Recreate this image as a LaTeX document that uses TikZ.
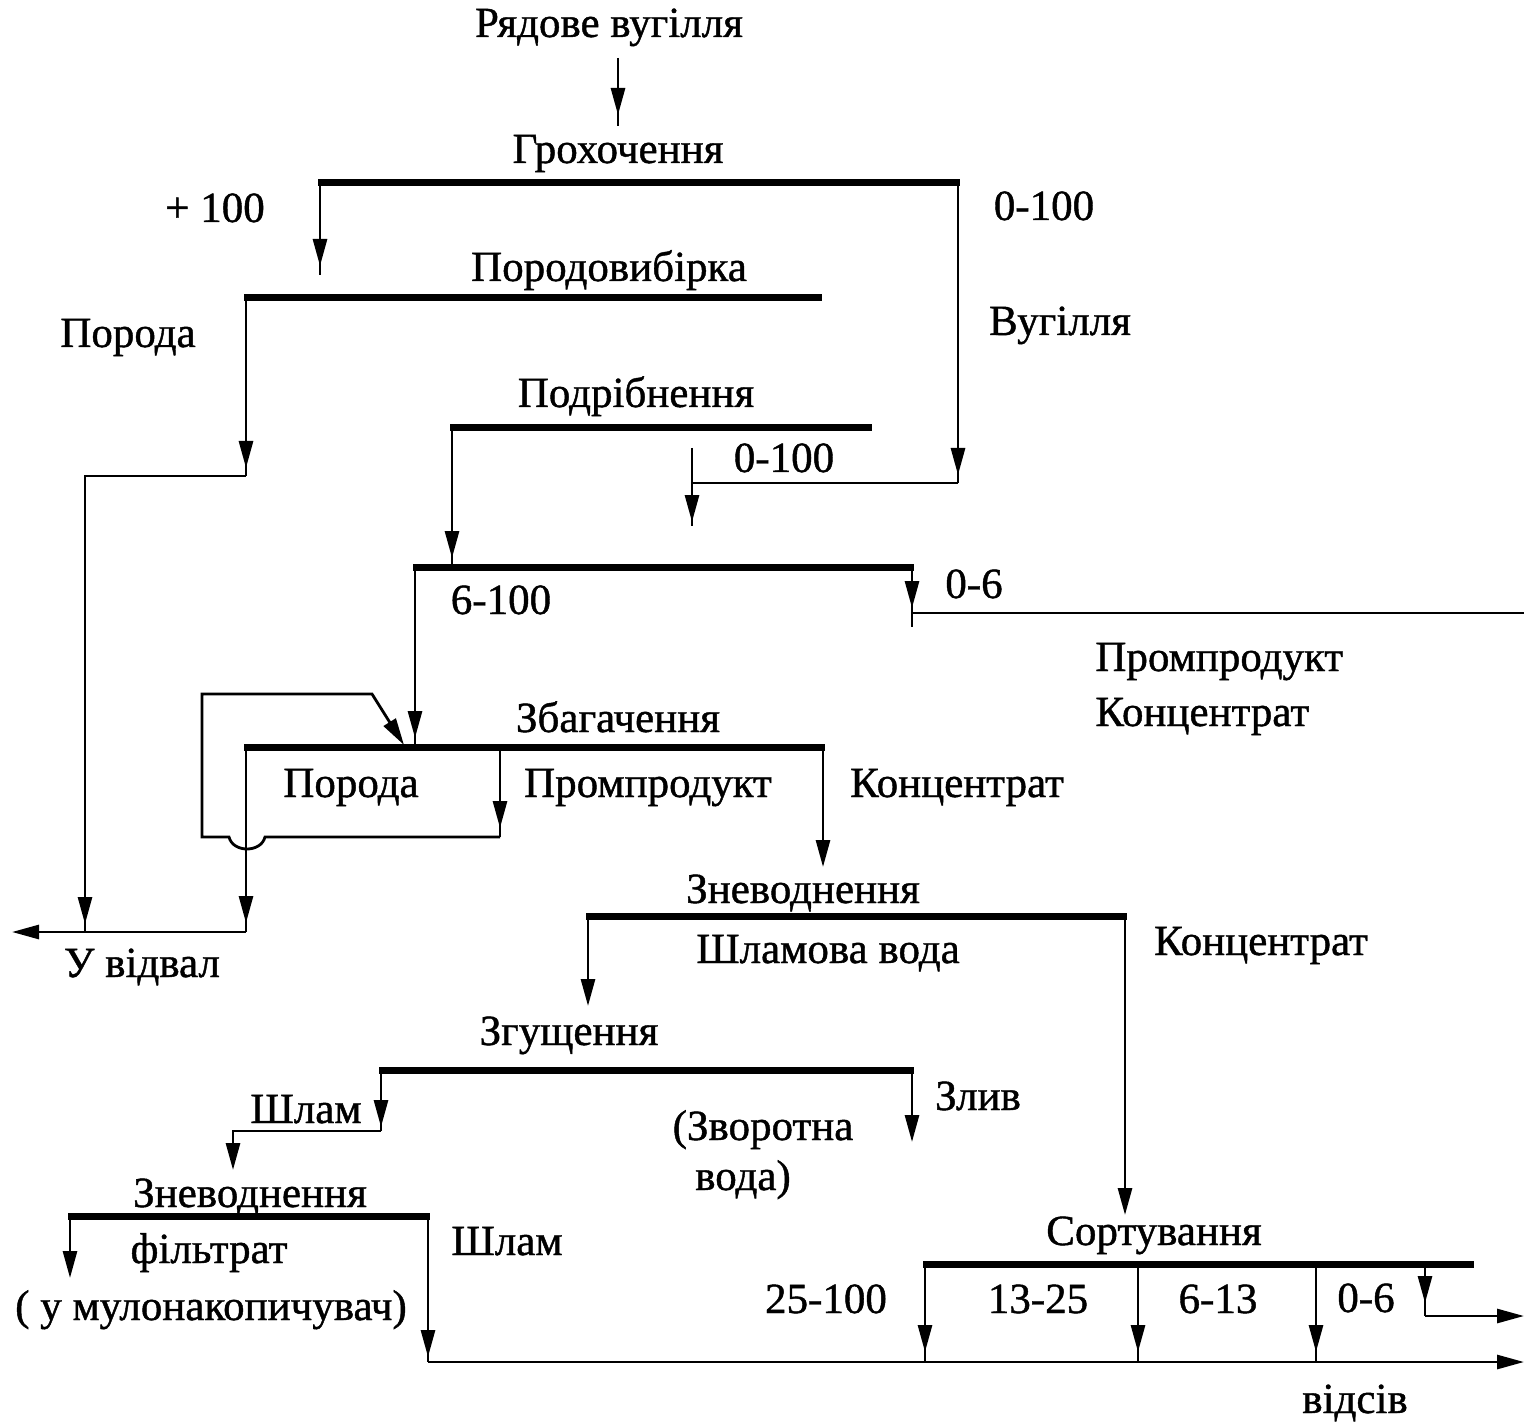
\documentclass[tikz,border=0pt]{standalone}
\usepackage{fontspec}
\setmainfont{Liberation Serif}[FakeBold=1]
\usetikzlibrary{arrows.meta,decorations.markings}
\tikzset{
  >={Triangle[length=13.5pt,width=7pt]},
  flow/.style={line width=1.4pt},
  bar/.style={line width=3.5pt, shorten <=-1pt, shorten >=-1pt},
  tipat/.style={postaction={decorate, decoration={markings,
      mark=at position #1 with {\arrow{Triangle[length=13.5pt,width=7pt]}}}}},
  lbl/.style={anchor=base, inner sep=0pt, font=\fontsize{21.5}{26}\selectfont},
  lblw/.style={lbl, anchor=base west},
}
\begin{document}
\begin{tikzpicture}[x=0.5pt,y=-0.5pt]
\useasboundingbox (0,0) rectangle (1524,1422);
\fill[white] (0,0) rectangle (1524,1422);

% ---------- texts ----------
\node[lbl] (tRaw)   at (609,37)   {Рядове вугілля};
\node[lbl] (tGro)   at (618,163)  {Грохочення};
\node[lbl] (tP100)  at (215,222)  {+ 100};
\node[lbl] (tM100)  at (1044,220) {0-100};
\node[lbl] (tPvb)   at (609,281)  {Породовибірка};
\node[lbl] (tPor1)  at (128,347)  {Порода};
\node[lbl] (tVug)   at (1060,335) {Вугілля};
\node[lbl] (tPdr)   at (636,407)  {Подрібнення};
\node[lbl] (tM100b) at (784,472)  {0-100};
\node[lbl] (t6100)  at (501,614)  {6-100};
\node[lbl] (t06)    at (974,598)  {0-6};
\node[lblw] (tPromR) at (1095,671) {Промпродукт};
\node[lblw] (tKonR)  at (1095,726) {Концентрат};
\node[lbl] (tZbag)  at (618,732)  {Збагачення};
\node[lbl] (tPor2)  at (351,797)  {Порода};
\node[lbl] (tProm)  at (648,797)  {Промпродукт};
\node[lbl] (tKon)   at (957,797)  {Концентрат};
\node[lbl] (tVidv)  at (142,977)  {У відвал};
\node[lbl] (tZnev)  at (803,903)  {Зневоднення};
\node[lbl] (tShv)   at (828,963)  {Шламова вода};
\node[lbl] (tKon2)  at (1261,955) {Концентрат};
\node[lbl] (tZgu)   at (569,1045) {Згущення};
\node[lbl] (tShl1)  at (306,1123) {Шлам};
\node[lbl] (tZliv)  at (978,1110) {Злив};
\node[lbl] (tZvor)  at (763,1140) {(Зворотна};
\node[lbl] (tVoda)  at (743,1190) {вода)};
\node[lbl] (tZnev2) at (250,1207) {Зневоднення};
\node[lbl] (tFil)   at (209,1263) {фільтрат};
\node[lbl] (tMul)   at (211,1320) {( у мулонакопичувач)};
\node[lbl] (tShl2)  at (507,1255) {Шлам};
\node[lbl] (tSort)  at (1154,1245) {Сортування};
\node[lbl] (t25)    at (826,1313) {25-100};
\node[lbl] (t13)    at (1038,1313) {13-25};
\node[lbl] (t6)     at (1218,1313) {6-13};
\node[lbl] (t0)     at (1366,1312) {0-6};
\node[lbl] (tVids)  at (1355,1413) {відсів};

% ---------- bars ----------
\coordinate (gL) at (320,183);  \coordinate (gR) at (958,183);
\coordinate (pL) at (246,298);  \coordinate (pR) at (820,298);
\coordinate (dL) at (452,428);  \coordinate (dR) at (870,428);
\coordinate (sL) at (415,567);  \coordinate (sR) at (912,567);
\coordinate (zL) at (246,747);  \coordinate (zR) at (823,747);
\coordinate (nL) at (588,916);  \coordinate (nR) at (1125,916);
\coordinate (tL) at (381,1070); \coordinate (tR) at (912,1070);
\coordinate (fL) at (70,1216);  \coordinate (fR) at (428,1216);
\coordinate (cL) at (925,1264); \coordinate (cR) at (1472,1264);
\foreach \a/\b in {gL/gR,pL/pR,dL/dR,sL/sR,zL/zR,nL/nR,tL/tR,fL/fR,cL/cR}
  \draw[bar] (\a) -- (\b);

% ---------- connectors ----------
\coordinate (feed0) at (618,58); \coordinate (feed1) at (618,126);
\draw[flow,tipat=-5.5pt] (feed0) -- (feed1);

\coordinate (g1) at (320,275);
\draw[flow,tipat=-4.5pt] (gL) -- (g1);
\coordinate (g2) at (958,483); \coordinate (g3) at (692,483);
\draw[flow,tipat=-4pt] (gR) -- (g2);
\draw[flow] (g2) -- (g3);
\coordinate (c0) at (692,448); \coordinate (c1) at (692,526);
\draw[flow,tipat=-2pt] (c0) -- (c1);

\coordinate (p1) at (246,476); \coordinate (p2) at (85,476); \coordinate (p3) at (85,932);
\draw[flow,tipat=-4pt] (pL) -- (p1);
\draw[flow,tipat=-4pt] (p1) -- (p2) -- (p3);

\coordinate (d1) at (452,566);
\draw[flow,tipat=-4pt] (dL) -- (d1);

\coordinate (s1) at (912,627); \coordinate (s2) at (912,613); \coordinate (s3) at (1524,613);
\draw[flow,tipat=-9.5pt] (sR) -- (s1);
\draw[flow] (s2) -- (s3);
\draw[flow,tipat=-4.5pt] (sL) -- (415,747);

% recycle of middlings
\coordinate (m0) at (500,747); \coordinate (m1) at (500,837);
\draw[flow,tipat=-4.5pt] (m0) -- (m1);
\draw[flow,->] (m1) -- (265,837) .. controls (261,853) and (233,853) .. (229,837)
  -- (202,837) -- (202,694) -- (372,694) -- (404,745);

\coordinate (z1) at (246,932); \coordinate (z2) at (12,932);
\draw[flow,tipat=-4.5pt] (zL) -- (z1);
\draw[flow,->] (z1) -- (z2);
\draw[flow,->] (zR) -- (823,867);

\draw[flow,->] (nL) -- (588,1006);
\draw[flow,->] (nR) -- (1125,1215);

\coordinate (t1) at (381,1131); \coordinate (t2) at (233,1131); \coordinate (t3) at (233,1170);
\draw[flow,tipat=-2pt] (tL) -- (t1);
\draw[flow,->] (t1) -- (t2) -- (t3);
\draw[flow,->] (tR) -- (912,1142);

\draw[flow,->] (fL) -- (70,1278);
\coordinate (f1) at (428,1362); \coordinate (f2) at (1524,1362);
\draw[flow,tipat=-2.5pt] (fR) -- (f1);
\draw[flow,->] (f1) -- (f2);

\draw[flow,tipat=-5pt] (cL) -- (925,1362);
\draw[flow,tipat=-5pt] (1138,1264) -- (1138,1362);
\draw[flow,tipat=-5pt] (1316,1264) -- (1316,1362);
\coordinate (k1) at (1425,1316); \coordinate (k2) at (1524,1316);
\draw[flow,tipat=-6.5pt] (1425,1264) -- (k1);
\draw[flow,->] (k1) -- (k2);
\end{tikzpicture}
\end{document}
